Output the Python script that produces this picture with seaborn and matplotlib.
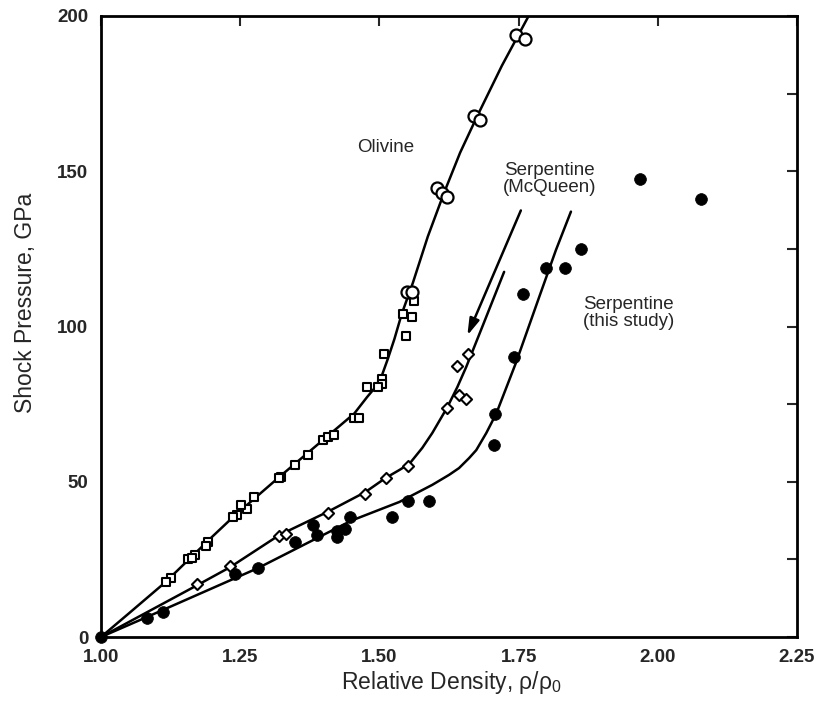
import matplotlib
matplotlib.use("Agg")
import matplotlib.pyplot as plt
import seaborn as sns
from matplotlib.ticker import MultipleLocator, FormatStrFormatter

# ---------------- data ----------------
olivine_circ_x = [1.745, 1.761, 1.670, 1.681, 1.604, 1.613, 1.622, 1.550, 1.559]
olivine_circ_y = [193.9, 192.6, 167.8, 166.5, 144.6, 143.0, 141.7, 111.1, 111.1]

olivine_sq_x = [1.563, 1.543, 1.559, 1.548, 1.509, 1.505, 1.505, 1.478, 1.498,
                1.455, 1.464, 1.398, 1.407, 1.419, 1.371, 1.348, 1.323, 1.320,
                1.275, 1.262, 1.252, 1.245, 1.237, 1.193, 1.189, 1.168, 1.156,
                1.163, 1.125, 1.116]
olivine_sq_y = [108.2, 104.0, 103.0, 97.0, 91.1, 83.0, 81.5, 80.5, 80.5,
                70.5, 70.5, 63.4, 64.4, 65.0, 58.6, 55.4, 51.5, 51.2,
                45.1, 41.2, 42.5, 39.3, 38.6, 30.6, 29.3, 26.4, 25.1,
                25.4, 19.0, 17.7]

mcq_x = [1.173, 1.232, 1.320, 1.332, 1.407, 1.475, 1.511, 1.552,
         1.622, 1.643, 1.655, 1.640, 1.660]
mcq_y = [17.1, 22.9, 32.5, 33.1, 39.9, 46.0, 51.3, 55.1,
         73.8, 77.9, 76.7, 87.3, 91.1]

study_x = [1.000, 1.082, 1.111, 1.241, 1.282, 1.348, 1.380, 1.388, 1.423, 1.423,
           1.438, 1.448, 1.523, 1.552, 1.589, 1.706, 1.708, 1.742, 1.758,
           1.799, 1.833, 1.862, 1.968, 2.077]
study_y = [0.0, 6.1, 8.0, 20.3, 22.2, 30.6, 36.0, 32.8, 34.1, 32.2,
           34.8, 38.7, 38.7, 43.8, 43.8, 61.8, 71.8, 90.2, 110.5,
           118.8, 118.8, 125.0, 147.5, 141.0]

# fitted curves
olivine_fit_x = [1.00, 1.05, 1.116, 1.198, 1.237, 1.32, 1.405, 1.455, 1.478,
                 1.493, 1.505, 1.515, 1.527, 1.54, 1.56, 1.587, 1.616, 1.645,
                 1.675, 1.72, 1.768]
olivine_fit_y = [0, 7.6, 17.7, 32.0, 38.6, 51.5, 64.4, 72.0, 77.3,
                 80.5, 84.5, 89.5, 96.0, 104.0, 114.0, 129.0, 143.0, 156.0,
                 167.5, 184.0, 200.0]

mcq_fit_x = [1.00, 1.173, 1.232, 1.32, 1.407, 1.475, 1.511, 1.536, 1.554,
             1.577, 1.595, 1.622, 1.640, 1.656, 1.685, 1.724]
mcq_fit_y = [0, 16.7, 22.5, 32.8, 40.3, 46.7, 51.2, 53.8, 55.8,
             60.9, 65.7, 74.0, 80.5, 87.0, 100.0, 117.6]

study_fit_x = [1.00, 1.082, 1.282, 1.45, 1.536, 1.595, 1.625, 1.643, 1.661,
               1.674, 1.692, 1.710, 1.745, 1.787, 1.817, 1.844]
study_fit_y = [0, 6.4, 22.2, 37.5, 43.5, 49.0, 52.2, 54.4, 57.6,
               60.2, 65.7, 72.0, 88.2, 109.5, 124.6, 137.0]

x_ticks = [1.00, 1.25, 1.50, 1.75, 2.00, 2.25]
y_ticks = [0, 50, 100, 150, 200]

# ---------------- plot ----------------
sns.set_style("white")
plt.rcParams["font.family"] = ["Liberation Sans", "DejaVu Sans"]

fig = plt.figure(figsize=(8.19, 7.24), dpi=100)
ax = fig.add_axes([101 / 819, 1 - 637 / 724, 696 / 819, 621 / 724])

for fx, fy in [(olivine_fit_x, olivine_fit_y), (mcq_fit_x, mcq_fit_y),
               (study_fit_x, study_fit_y)]:
    sns.lineplot(x=fx, y=fy, ax=ax, color="black", lw=1.8, sort=False,
                 estimator=None)

sns.scatterplot(x=olivine_sq_x, y=olivine_sq_y, ax=ax, marker="s", s=30,
                facecolor="white", edgecolor="black", linewidth=1.5, zorder=3)
sns.scatterplot(x=olivine_circ_x, y=olivine_circ_y, ax=ax, marker="o", s=75,
                facecolor="white", edgecolor="black", linewidth=1.6, zorder=3)
sns.scatterplot(x=mcq_x, y=mcq_y, ax=ax, marker="D", s=32,
                facecolor="white", edgecolor="black", linewidth=1.5, zorder=3)
sns.scatterplot(x=study_x, y=study_y, ax=ax, marker="o", s=72,
                color="black", edgecolor="black", linewidth=0.5, zorder=4,
                clip_on=False)

ax.annotate("", xy=(1.656, 96.3), xytext=(1.756, 138.2),
            arrowprops=dict(arrowstyle="-|>,head_length=1.0,head_width=0.3",
                            color="black", lw=1.8))

ax.text(1.511, 157.5, "Olivine", ha="center", va="center", fontsize=13.5)
ax.text(1.805, 147.5, "Serpentine\n(McQueen)", ha="center", va="center",
        fontsize=13.5, linespacing=1.05)
ax.text(1.948, 104.3, "Serpentine\n(this study)", ha="center", va="center",
        fontsize=13.5, linespacing=1.05)

ax.set_xlim(1.0, 2.25)
ax.set_ylim(0, 200)
ax.set_xticks(x_ticks)
ax.set_yticks(y_ticks)
ax.xaxis.set_major_formatter(FormatStrFormatter("%.2f"))
ax.yaxis.set_minor_locator(MultipleLocator(25))
ax.tick_params(axis="both", which="both", direction="in", top=True,
               right=True, length=7, width=1.5, labelsize=13.5, pad=9)
for lab in ax.get_xticklabels() + ax.get_yticklabels():
    lab.set_fontweight("bold")

for sp in ax.spines.values():
    sp.set_linewidth(2.0)
    sp.set_color("black")

ax.set_xlabel("Relative Density, ρ/ρ$_\\mathregular{0}$", fontsize=16.5)
ax.set_ylabel("Shock Pressure, GPa", fontsize=16.5)
ax.xaxis.set_label_coords(0.503, -0.052)
ax.xaxis.label.set_va("top")
ax.yaxis.set_label_coords(-0.092, 0.538)

fig.savefig("out.png", dpi=100)
